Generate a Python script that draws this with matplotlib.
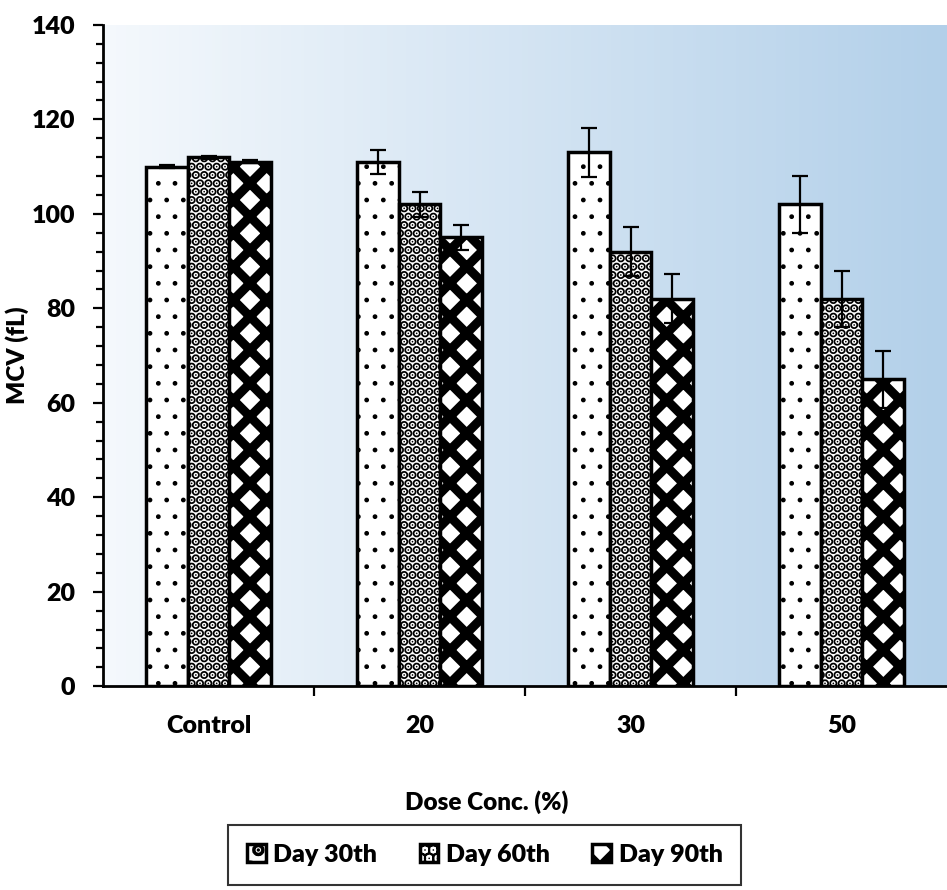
import numpy as np
import matplotlib.pyplot as plt

plt.rcParams['font.family'] = ['Lato', 'DejaVu Sans']
plt.rcParams['font.weight'] = 'heavy'

groups = ["Control", "20", "30", "50"]
series = ["Day 30th", "Day 60th", "Day 90th"]
day30 = [110, 111, 113, 102]
day60 = [112, 102, 92, 82]
day90 = [111, 95, 82, 65]
err30 = [0.3, 2.6, 5.2, 6.0]
err60 = [0.3, 2.6, 5.2, 6.0]
err90 = [0.3, 2.6, 5.2, 6.0]

values = [day30, day60, day90]
errors = [err30, err60, err90]
hatches = ['.', '..', 'x']
hatch_lw = [1.0, 4.5, 6.5]

fig = plt.figure(figsize=(9.47, 8.9), dpi=100)
ax = fig.add_axes([0.109, 0.229, 0.891, 0.743])

# gradient background
grad = np.linspace(0, 1, 256).reshape(1, -1)
c0 = np.array([0.96, 0.975, 0.99])
c1 = np.array([0.70, 0.815, 0.915])
img = c0[None, None, :] * (1 - grad[..., None]) + c1[None, None, :] * grad[..., None]
ax.imshow(img, extent=[0, 1, 0, 1], transform=ax.transAxes, aspect='auto', zorder=0)

x = np.arange(len(groups))
w = 0.197
for i in range(3):
    plt.rcParams['hatch.linewidth'] = hatch_lw[i]
    bars = ax.bar(x + (i - 1) * w, values[i], w, color='white', edgecolor='black',
                  linewidth=2.5, hatch=hatches[i], label=series[i], zorder=2)
    for b in bars:
        if hasattr(b, 'set_hatch_linewidth'):
            b.set_hatch_linewidth(hatch_lw[i])
    ax.errorbar(x + (i - 1) * w, values[i], yerr=errors[i], fmt='none', ecolor='black',
                elinewidth=1.6, capsize=6, capthick=1.6, zorder=3)

ax.set_xlim(-0.5, 3.5)
ax.set_ylim(0, 140)
ax.set_yticks(np.arange(0, 141, 20))
ax.set_yticks(np.arange(0, 141, 4), minor=True)
ax.set_xticks(x)
ax.set_xticklabels(groups)
ax.set_xticks([0.5, 1.5, 2.5], minor=True)
ax.tick_params(axis='x', which='major', length=0, pad=21, labelsize=18)
ax.tick_params(axis='x', which='minor', length=7, width=1.6)
ax.tick_params(axis='y', which='major', length=7, width=1.6, labelsize=18, pad=13)
ax.tick_params(axis='y', which='minor', length=5, width=1.6)
for s in ['top', 'right']:
    ax.spines[s].set_visible(False)
for s in ['left', 'bottom']:
    ax.spines[s].set_linewidth(2)

ax.set_xlabel("Dose Conc. (%)", fontsize=17.5, fontweight='heavy')
ax.xaxis.set_label_coords(0.455, -0.158)
ax.set_ylabel("MCV (fL)", fontsize=17.5, fontweight='heavy', labelpad=2)

leg = fig.legend(loc='lower center', bbox_to_anchor=(0.512, -0.008), ncol=3, fontsize=18,
                 frameon=True, fancybox=False, edgecolor='black', handlelength=0.75,
                 handleheight=0.75, handletextpad=0.3, columnspacing=1.7,
                 borderpad=0.75)
leg.get_frame().set_linewidth(1.5)

fig.savefig("out.png", dpi=100)
